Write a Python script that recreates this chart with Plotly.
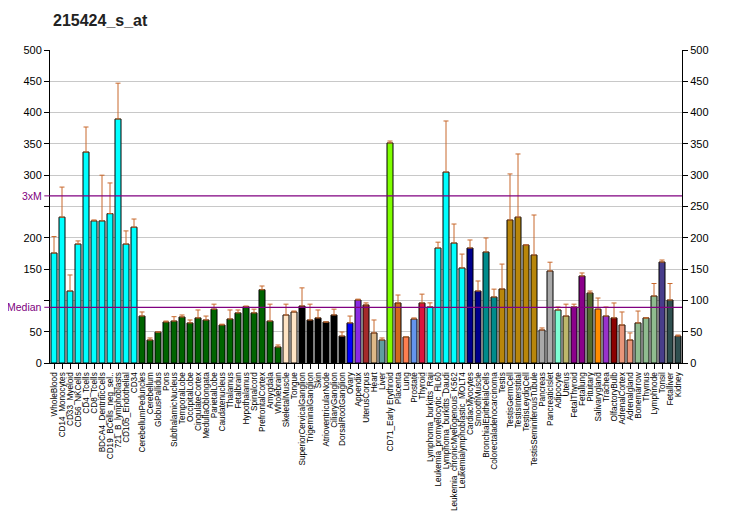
import plotly.graph_objects as go

categories = ["WholeBlood","CD14_Monocytes","CD33_Myeloid","CD56_NKCells","CD4_Tcells","CD8_Tcells",
"BDCA4_DentriticCells","CD19_BCells_neg_sel..","721_B_lymphoblasts","CD105_Endothelial","CD34",
"CerebellumPeduncles","Cerebellum","GlobusPallidus","Pons","SubthalamicNucleus","TemporalLobe",
"OccipitalLobe","CingulateCortex","MedullaOblongata","ParietalLobe","Caudatenucleus","Thalamus",
"Fetalbrain","Hypothalamus","Spinalcord","PrefrontalCortex","Amygdala","Wholebrain","SkeletalMuscle",
"Tongue","SuperiorCervicalGanglion","TrigeminalGanglion","Skin","AtrioventricularNode","CiliaryGanglion",
"DorsalRootGanglion","Ovary","Appendix","UterusCorpus","Heart","Liver","CD71_Early Erythroid","Placenta",
"Lung","Prostate","Thyroid","Lymphoma_burkitts_Raji","Leukemia_promyelocytic_HL60",
"Lymphoma_burkitts_Daudi","Leukemia_chronicMyelogenous_K562","Leukemialymphoblastic_MOLT4",
"CardiacMyocytes","SmoothMuscle","BronchialEpithelialCells","Colorectaladenocarcinoma","Testis",
"TestisGermCell","TestisInterstitial","TestisLeydigCell","TestisSeminiferousTubule","Pancreas",
"PancreaticIslet","Adipocyte","Uterus","FetalThyroid","Fetallung","Pituitary","Salivarygland","Trachea",
"OlfactoryBulb","AdrenalCortex","Adrenalgland","Bonemarrow","Thymus","Lymphnode","Tonsil","Fetalliver",
"Kidney"]

values = [175.7,233,115,190,337,227,227,238.6,389.8,190,217,
75,36.7,49.5,65.5,67,73.5,64,72,68.7,86,60.7,70.3,80,90,80,117,67,25.6,76.7,
81.5,91,68.7,72,65.5,76.7,43,64,100.6,92.7,48,36.7,351.5,95.9,
41.5,70.3,95.9,89.5,183.7,305,191.7,151.8,
183.7,115,177.3,105.4,118.2,228.4,233,188.5,172.5,52.7,
147,84.7,75,89.5,139,111.8,86,75,
72,60.7,36.7,64,72,107,161.3,100.6,43]

err_top = [202,281,140.6,195,377,228.5,300,287.6,447,211,230,
81.5,40,49.5,67,74,76.7,68.7,84.7,75,94,62,84.7,84.7,91,86,123,94,28.8,94,
83,120,94,84.7,65.5,86,49.5,75,102,96,68.7,40,354.6,108.6,
41.5,72,110,96,193,386.6,222,174,
196.5,131,199.7,118,158,302,333.9,188.5,236.4,56,
161,89.5,94,94,143.8,115,103.8,89.5,
95.9,81.5,48,83,72,127,164.5,127,44.7]

colors = (["#00FFFF"]*11 + ["#006400"]*18 + ["#FFE4C4"]*2 + ["#000000"]*6 +
          ["#0000FF","#8A2BE2","#A52A2A","#DEB887","#5F9EA0","#7FFF00","#D2691E","#FF7F50","#6495ED","#DC143C"] +
          ["#00FFFF"]*5 + ["#00008B"]*2 + ["#008B8B"]*2 + ["#B8860B"]*5 + ["#A9A9A9"]*2 +
          ["#7FFFD4","#BDB76B","#8B008B","#8B008B","#556B2F","#FF8C00","#9932CC","#8B0000",
           "#E9967A","#E9967A","#8FBC8F","#8FBC8F","#8FBC8F","#483D8B","#2F4F4F","#2F4F4F"])

median_val = 89
three_xm = 267
left_ticks = [0, 50, 100, 150, 200, 250, 300, 350, 400, 450, 500]
left_text = ["0", "50", "", "150", "200", "", "300", "350", "400", "450", "500"]

x_idx = list(range(len(categories)))
plus = [max(e - v, 0) for e, v in zip(err_top, values)]

fig = go.Figure()
fig.add_trace(go.Bar(
    x=x_idx, y=values, width=0.75,
    marker=dict(color=colors, line=dict(color="black", width=1)),
    error_y=dict(type="data", array=plus, arrayminus=[0]*len(plus), symmetric=False,
                 color="#C8682C", thickness=1, width=2.5),
    showlegend=False, hoverinfo="x+y"))
fig.add_trace(go.Scatter(x=[0], y=[0], yaxis="y2", mode="markers",
                         marker=dict(opacity=0), showlegend=False, hoverinfo="skip"))

for yv in (median_val, three_xm):
    fig.add_shape(type="line", xref="paper", yref="y", x0=0, x1=1, y0=yv, y1=yv,
                  line=dict(color="#800080", width=1.2))
    fig.add_shape(type="line", xref="paper", yref="y", x0=-0.009, x1=0, y0=yv, y1=yv,
                  line=dict(color="#800080", width=1))

fig.add_annotation(xref="paper", yref="y", x=-0.011, y=three_xm, text="3xM", showarrow=False,
                   xanchor="right", xshift=0, borderpad=0,
                   font=dict(color="#800080", size=10.5, family="Liberation Sans, Arial"))
fig.add_annotation(xref="paper", yref="y", x=-0.011, y=median_val, text="Median", showarrow=False,
                   xanchor="right", xshift=0, borderpad=0,
                   font=dict(color="#800080", size=10.5, family="Liberation Sans, Arial"))

fig.update_layout(
    width=724, height=522,
    margin=dict(l=42, r=50, t=42, b=167),
    paper_bgcolor="white", plot_bgcolor="white",
    title=dict(text="<b>215424_s_at</b>", x=45/724, xref="container", xanchor="left",
               y=1 - 12/522, yanchor="middle",
               pad=dict(l=0, r=0, t=0, b=0),
               font=dict(size=16, family="Liberation Sans, Arial", color="#222")),
    font=dict(family="Liberation Sans, Arial", size=11, color="black"),
    bargap=0.25,
    xaxis=dict(range=[-0.5, len(categories) - 0.5], tickmode="array", tickvals=x_idx,
               ticktext=categories, tickangle=-90, automargin=False,
               tickfont=dict(size=8.2, family="Liberation Sans, Arial"),
               ticks="outside", ticklen=5, tickcolor="black", showline=True, linecolor="black",
               showgrid=False, zeroline=False, fixedrange=True),
    yaxis=dict(range=[0, 500], tickmode="array", tickvals=left_ticks, ticktext=left_text,
               automargin=False,
               ticks="outside", ticklen=5, tickcolor="black", showline=True, linecolor="black",
               showgrid=True, gridcolor="#C8C8C8", gridwidth=1, zeroline=False),
    yaxis2=dict(range=[0, 500], overlaying="y", side="right", tickmode="array", automargin=False,
                tickvals=left_ticks, ticks="outside", ticklen=5, tickcolor="black",
                showline=True, linecolor="black", showgrid=False, zeroline=False),
)

fig.write_html("out.html")
